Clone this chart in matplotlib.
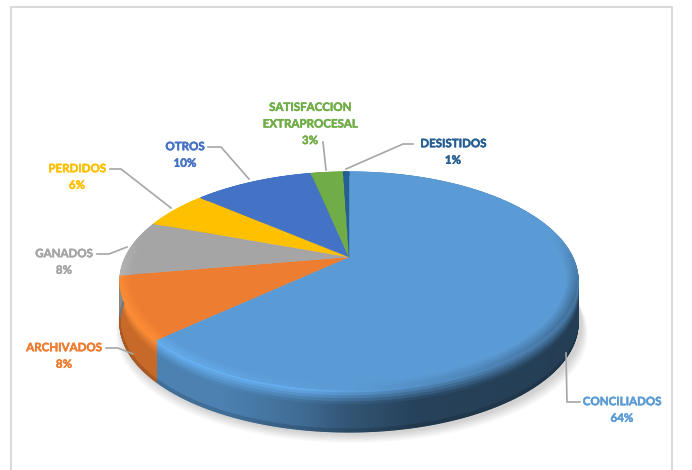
import numpy as np
import matplotlib
matplotlib.use("Agg")
import matplotlib.pyplot as plt
import matplotlib.patheffects as pe
from matplotlib.collections import PolyCollection
from matplotlib.colors import to_rgb
from matplotlib.patches import Polygon

# slice sizes as they measure on the picture, the labels carry the rounded numbers
categories = ["CONCILIADOS", "ARCHIVADOS", "GANADOS", "PERDIDOS", "OTROS",
              "SATISFACCION\nEXTRAPROCESAL", "DESISTIDOS"]
shares = [63.1, 9.2, 8.3, 5.7, 10.4, 2.8, 0.5]
percent_labels = ["64%", "8%", "8%", "6%", "10%", "3%", "1%"]
colors = ["#5B9BD5", "#ED7D31", "#A5A5A5", "#FFC000", "#4472C4", "#70AD47", "#255E91"]

# where the labels sit and how the leader lines run, in pixels
label_pos = [(622, 410), (64, 356), (64, 262), (77, 177), (185, 155), (310, 124), (453, 152)]
leaders = [
    [(566, 353), (567, 402), (580, 402)],
    [(106, 348), (118, 348), (133, 354)],
    [(97, 254), (109, 254), (127, 247)],
    [(110, 169), (121, 169), (171, 208)],
    [(208, 147), (221, 147), (249, 179)],
    [(323, 142), (326, 170)],
    [(346, 169), (403, 144), (413, 144)],
]

# pie projection: apex position, radii, perspective strength, wall height
CX, CY = 349, 257
RX, RY = 223.4, 103.7
PERSP = 0.22
DEPTH = 42


def project(theta, r=1.0, drop=0.0):
    # theta runs clockwise from twelve o'clock
    u = r * np.sin(theta)
    v = r * np.cos(theta)
    w = 1 + PERSP * v
    return CX + RX * u / w, CY - RY * v / w + drop


def mix(a, b, t):
    return tuple(a[i] + (b[i] - a[i]) * t for i in range(3))


def scale(c, f):
    return tuple(min(1.0, x * f) for x in c)


fig = plt.figure(figsize=(6.92, 4.70), dpi=100)
ax = fig.add_axes([0, 0, 1, 1])
ax.set_xlim(0, 692)
ax.set_ylim(470, 0)
ax.axis("off")

# frame, open at the bottom
ax.plot([11, 11, 672, 672], [470, 7, 7, 470], color="#d9d9d9", lw=1.5, zorder=1)

edges = np.radians(np.cumsum([0] + shares) * 3.6)

# soft shadow below the pie
circle = np.linspace(0, 2 * np.pi, 200)
for grow in np.linspace(1.0, 9.0, 9):
    sx, sy = project(circle, 1.0, DEPTH + 2)
    sx = CX + (sx - CX) * (1 + grow / 300) + 3
    sy = sy + grow
    ax.add_patch(Polygon(np.c_[sx, sy], fc="#000000", ec="none", alpha=0.018, zorder=2))

# outer wall, shaded from lit on the left to dark on the right
quads, quad_colors = [], []
for i, col in enumerate(colors):
    base = to_rgb(col)
    n = max(6, int(shares[i] * 8))
    th = np.linspace(edges[i], edges[i + 1], n + 1)
    for a, b in zip(th[:-1], th[1:]):
        xa, _ = project(a)
        xm = (xa - (CX - RX)) / (2 * RX)
        xm = min(max(xm, 0), 1)
        wall = scale(base, np.interp(xm, [0, .22, .39, .5, .65, 1], [.84, .83, .7, .55, .42, .4]))
        top = scale(base, np.interp(xm, [0, .4, .55, .7, 1], [1.15, 1.12, 1.0, .9, .8]))
        drops = np.linspace(0, DEPTH, 15)
        for d0, d1 in zip(drops[:-1], drops[1:]):
            t = min(1.0, d0 / (DEPTH * 0.32))
            c = mix(top, wall, t)
            if d0 > DEPTH - 4:
                c = scale(c, 0.85)
            x0, y0 = project(a, 1, d0)
            x1, y1 = project(b, 1, d0)
            x2, y2 = project(b, 1, d1)
            x3, y3 = project(a, 1, d1)
            quads.append([(x0, y0), (x1, y1), (x2, y2), (x3, y3)])
            quad_colors.append(c)
ax.add_collection(PolyCollection(quads, facecolors=quad_colors, edgecolors=quad_colors,
                                 linewidths=0.9, zorder=3))

# top face
for i, col in enumerate(colors):
    th = np.linspace(edges[i], edges[i + 1], max(8, int(shares[i] * 6)))
    x, y = project(th)
    pts = np.r_[[(CX, CY)], np.c_[x, y]]
    ax.add_patch(Polygon(pts, fc=col, ec=col, lw=0.3, zorder=4))

# bevel along the near edge of the face
quads, quad_colors = [], []
radii = np.linspace(0.945, 1.0, 7)
for i, col in enumerate(colors):
    base = to_rgb(col)
    n = max(6, int(shares[i] * 8))
    th = np.linspace(edges[i], edges[i + 1], n + 1)
    for a, b in zip(th[:-1], th[1:]):
        near = max(0.0, -np.cos(a) + 0.25) / 1.25
        left = max(0.0, -np.sin(a))
        right = max(0.0, np.sin(a))
        target = scale(base, 1 + 0.16 * left - 0.35 * right)
        for r0, r1 in zip(radii[:-1], radii[1:]):
            t = (r0 - radii[0]) / (1 - radii[0])
            c = mix(base, target, t * min(1.0, near * 2))
            x0, y0 = project(a, r0)
            x1, y1 = project(b, r0)
            x2, y2 = project(b, r1)
            x3, y3 = project(a, r1)
            quads.append([(x0, y0), (x1, y1), (x2, y2), (x3, y3)])
            quad_colors.append(c)
ax.add_collection(PolyCollection(quads, facecolors=quad_colors, edgecolors=quad_colors,
                                 linewidths=0.6, zorder=5))

# leader lines and labels
for pts in leaders:
    xs, ys = zip(*pts)
    ax.plot(xs, ys, color="#A6A6A6", lw=1.2, zorder=6)

for name, pct, col, (lx, ly) in zip(categories, percent_labels, colors, label_pos):
    ax.text(lx, ly, name + "\n" + pct, color=col, ha="center", va="center",
            family="Lato", weight="bold", fontsize=8.3, linespacing=1.62, zorder=7,
            path_effects=[pe.withStroke(linewidth=0.35, foreground=col)])

fig.savefig("out.png", dpi=100)
